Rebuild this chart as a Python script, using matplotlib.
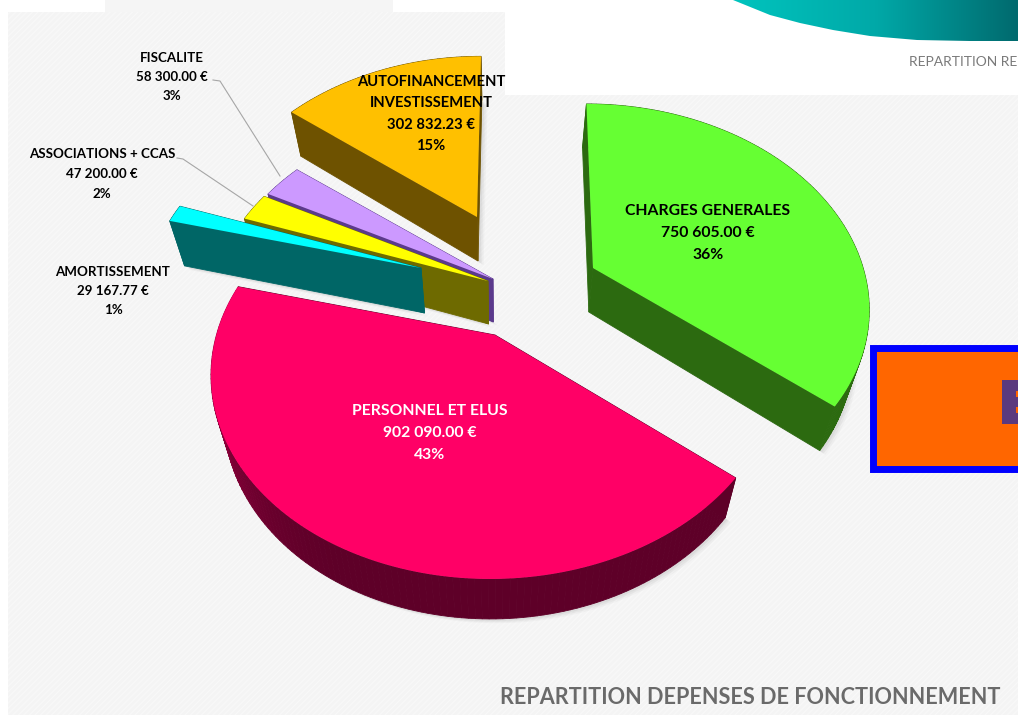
import numpy as np
import matplotlib
matplotlib.use("Agg")
import matplotlib.pyplot as plt
from matplotlib.patches import Rectangle, Polygon
from matplotlib.colors import LinearSegmentedColormap, to_rgb

# values, in the order of the pie (clockwise from the top)
categories = ["CHARGES GENERALES", "PERSONNEL ET ELUS", "AMORTISSEMENT",
              "ASSOCIATIONS + CCAS", "FISCALITE", "AUTOFINANCEMENT\nINVESTISSEMENT"]
values = [750605.00, 902090.00, 29167.77, 47200.00, 58300.00, 302832.23]
percents = ["36%", "43%", "1%", "2%", "3%", "15%"]

top_colors = ["#66FF33", "#FF0066", "#00FFFF", "#FFFF00", "#CC99FF", "#FFC000"]
side_colors = ["#2C6A10", "#5E0028", "#006666", "#6E6A00", "#5B3A8C", "#6E5200"]
apex_x = [593, 495, 421, 488, 493, 477]
apex_y = [268, 335, 268, 281, 279, 217]
scale = [0.965, 0.995, 0.97, 0.98, 0.985, 0.945]
shear = [0.04, -0.02, 0, 0, 0, -0.025]
depth = [44, 40, 45, 43, 43, 44]
label_x = [708, 430, 113, 102, 172, 431]
label_y = [233, 433, 291, 174, 77, 114]
label_size = [11.3, 11.3, 9.6, 9.6, 9.6, 10.6]
label_space = [1.72, 1.72, 1.75, 1.75, 1.75, 1.66]
label_color = ["black", "white", "black", "black", "black", "black"]

RX, AY, K = 280, 200.8, 0.181


def project(theta, x0, y0, s, sh):
    # disc seen in perspective
    x = np.sin(theta)
    y = np.cos(theta)
    f = s / (1 + K * y)
    px = RX * x * f
    py = -AY * y * f
    return x0 + px + sh * py, y0 + py


def lower(xs, ys, d):
    return xs - 0.045 * (xs - 500), ys + d


fig = plt.figure(figsize=(10.18, 7.15), dpi=100)
ax = fig.add_axes([0, 0, 1, 1])
ax.set_xlim(0, 1018)
ax.set_ylim(715, 0)
ax.axis("off")

# slide background
ax.add_patch(Rectangle((0, 0), 1018, 715, fc="white", ec="none"))
ax.add_patch(Rectangle((8, 12), 1010, 703, fc="#F4F4F4", ec="#F8F8F8", hatch="//////", lw=0))
ax.add_patch(Rectangle((105, 0), 288, 12, fc="#F5F5F5", ec="none"))
ax.add_patch(Rectangle((505, 0), 513, 95, fc="white", ec="none"))

# swoosh of the next slide
cm = LinearSegmentedColormap.from_list("sw", ["#00C4BE", "#00A9A8", "#006A6E"])
im = ax.imshow(np.linspace(0, 1, 256)[None, :], cmap=cm, extent=(733, 1018, 42, 0), aspect="auto", zorder=2)
sw_x = [733, 770, 800, 833, 870, 917, 970, 1018, 1018]
sw_y = [0, 15, 23, 30, 36, 40, 41, 41, 0]
sw = Polygon(np.column_stack([sw_x, sw_y]), transform=ax.transData, fc="none", ec="none")
ax.add_patch(sw)
im.set_clip_path(sw)
ax.set_xlim(0, 1018)
ax.set_ylim(715, 0)
ax.text(909, 62, "REPARTITION RE", family="Lato", fontsize=10, color="#7A7A7A",
        va="center", ha="left", zorder=3)

# pie slices, cut from the values
fracs = np.array(values) / sum(values)
ends = np.cumsum(fracs) * 2 * np.pi
starts = ends - fracs * 2 * np.pi

order = [5, 4, 3, 2, 1, 0]
z = 4
for i in order:
    th = np.linspace(starts[i], ends[i], max(int(fracs[i] * 300), 6))
    ax_, ay_ = project(th, apex_x[i], apex_y[i], scale[i], shear[i])
    xs = np.r_[apex_x[i], ax_]
    ys = np.r_[apex_y[i], ay_]
    bx, by = lower(xs, ys, depth[i])

    # soft shadow
    for off, a in [(7, 0.05), (5, 0.07), (3, 0.09)]:
        ax.add_patch(Polygon(np.column_stack([bx + off * 0.8, by + off * 0.6]), fc="#777777",
                             ec="none", alpha=a, zorder=z))
    z += 1

    # sides, one strip per outline segment
    n = len(xs)
    base = np.array(to_rgb(side_colors[i]))
    for j in range(n):
        k = (j + 1) % n
        col = base
        if i == 1 and 0 < j < n - 1:
            # rim of the big slice gets lighter on the left
            t = (j / (n - 1) - 0.5) * 2
            col = base + max(t, 0) ** 1.5 * (np.array(to_rgb("#C80052")) - base)
        ax.add_patch(Polygon([(xs[j], ys[j]), (xs[k], ys[k]), (bx[k], by[k]), (bx[j], by[j])],
                             fc=col, ec=col, lw=0.6, zorder=z))
    z += 1
    ax.add_patch(Polygon(np.column_stack([xs, ys]), fc=top_colors[i], ec="none", zorder=z))
    z += 1

# leader lines
ax.plot([213, 220, 280], [80, 81, 176], color="#A6A6A6", lw=0.8, zorder=z)
ax.plot([177, 183, 253], [158, 159, 206], color="#A6A6A6", lw=0.8, zorder=z)

# labels
for i in range(len(categories)):
    money = f"{values[i]:,.2f}".replace(",", " ") + " €"
    ax.text(label_x[i], label_y[i], categories[i] + "\n" + money + "\n" + percents[i],
            family="Lato", weight="bold", fontsize=label_size[i],
            color=label_color[i], ha="center", va="center", linespacing=label_space[i],
            zorder=z + 1)

# box cut by the right edge
ax.add_patch(Rectangle((873.5, 347.5), 150, 121, fc="#FF6600", ec="#0000FF", lw=5, zorder=z + 2))
ax.add_patch(Rectangle((1002, 380), 20, 44, fc="#5B3A7E", ec="none", zorder=z + 3))
ax.add_patch(Rectangle((1016.5, 391), 3, 6, fc="#FF6600", ec="none", zorder=z + 4))
ax.add_patch(Rectangle((1016.5, 407), 3, 6, fc="#FF6600", ec="none", zorder=z + 4))

ax.text(1001, 697, "REPARTITION DEPENSES DE FONCTIONNEMENT", family="Lato", weight="bold",
        fontsize=15.6, color="#6A6A6A", ha="right", va="center", zorder=z + 1)

fig.savefig("out.png", dpi=100)
